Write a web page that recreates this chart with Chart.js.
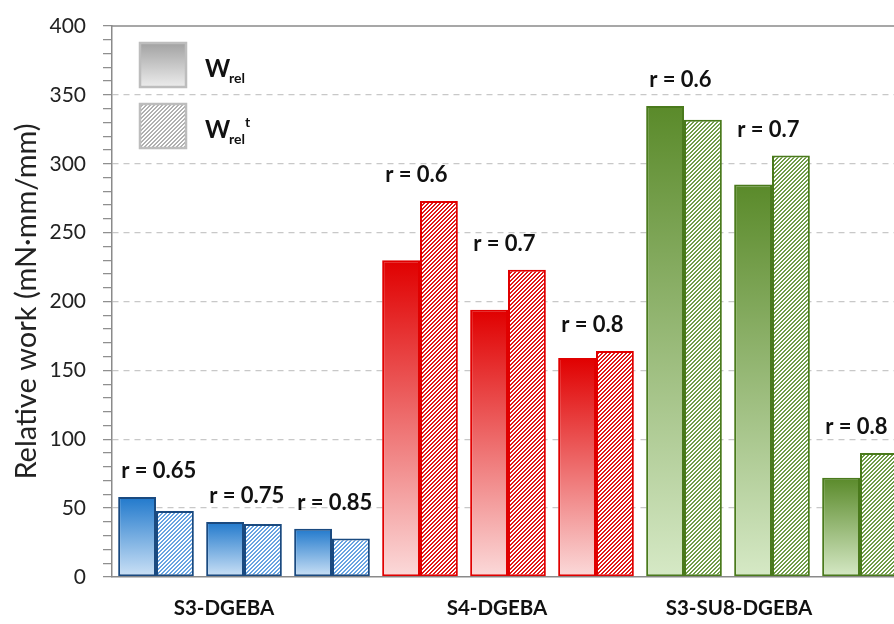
<!DOCTYPE html>
<html>
<head>
<meta charset="utf-8">
<script src="https://cdn.jsdelivr.net/npm/chart.js@4"></script>
<style>
  body { margin: 0; background: #fff; overflow: hidden; }
</style>
</head>
<body>
<canvas id="workChart" width="910" height="624"></canvas>
<script>
// Data
const groupNames = ['S3-DGEBA', 'S4-DGEBA', 'S3-SU8-DGEBA'];
const categories = ['S3-DGEBA 0.65', 'S3-DGEBA 0.75', 'S3-DGEBA 0.85',
                    'S4-DGEBA 0.6', 'S4-DGEBA 0.7', 'S4-DGEBA 0.8',
                    'S3-SU8-DGEBA 0.6', 'S3-SU8-DGEBA 0.7', 'S3-SU8-DGEBA 0.8'];
const rLabels = ['r = 0.65', 'r = 0.75', 'r = 0.85', 'r = 0.6', 'r = 0.7', 'r = 0.8', 'r = 0.6', 'r = 0.7', 'r = 0.8'];
const wRel  = [58, 40, 35, 230, 194, 159, 342, 285, 72];
const wRelT = [48, 38.5, 28, 273, 223, 164, 332, 306, 90];
const yMax = 400;
const yMajorStep = 50;
const yMinorStep = 10;

// Farger per grupp
const groupStyles = [
  { top: '#2179cc', bottom: '#cde2f6', border: '#1a4a80', hatch: [104, 164, 226] },
  { top: '#e00000', bottom: '#fbdada', border: '#e00000', hatch: [226, 24, 24] },
  { top: '#5a8a2a', bottom: '#d6e9c6', border: '#4a7a1c', hatch: [112, 156, 72] }
];

function groupOf(i) { return Math.floor(i / 3); }

// diagonal hatch built pixel by pixel so the colour stays exact
function hatchPattern(rgb) {
  const n = 4;
  const c = document.createElement('canvas');
  c.width = n; c.height = n;
  const g = c.getContext('2d');
  const img = g.createImageData(n, n);
  for (let py = 0; py < n; py++) {
    for (let px = 0; px < n; px++) {
      const k = (py * n + px) * 4;
      const on = ((px + py) % n) >= 2;
      img.data[k] = on ? rgb[0] : 255;
      img.data[k + 1] = on ? rgb[1] : 255;
      img.data[k + 2] = on ? rgb[2] : 255;
      img.data[k + 3] = 255;
    }
  }
  g.putImageData(img, 0, 0);
  return g.createPattern(c, 'repeat');
}

const hatches = groupStyles.map(s => hatchPattern(s.hatch));
const legendHatch = hatchPattern([176, 176, 176]);

function solidFill(ctx, style) {
  const chart = ctx.chart;
  const y = chart.scales.y;
  if (!y || ctx.parsed === undefined) return style.top;
  const top = y.getPixelForValue(ctx.parsed.y);
  const base = y.getPixelForValue(0);
  if (!isFinite(top) || !isFinite(base) || top === base) return style.top;
  const grad = chart.ctx.createLinearGradient(0, top, 0, base);
  grad.addColorStop(0, style.top);
  grad.addColorStop(1, style.bottom);
  return grad;
}

// Etiketter, legend och ramlinje
const annotations = {
  id: 'annotations',
  afterDatasetsDraw(chart) {
    const { ctx, chartArea, scales } = chart;
    const x = scales.x, y = scales.y;
    const catW = (chartArea.right - chartArea.left) / categories.length;
    const pairW = catW * 0.86;

    ctx.save();
    // top frame line
    ctx.strokeStyle = '#8a8a8a';
    ctx.lineWidth = 1.5;
    ctx.beginPath();
    ctx.moveTo(chartArea.left, chartArea.top);
    ctx.lineTo(chartArea.right, chartArea.top);
    ctx.stroke();

    // r-labels
    ctx.fillStyle = '#111';
    ctx.font = 'bold 22px Lato';
    ctx.textBaseline = 'middle';
    ctx.textAlign = 'left';
    categories.forEach((c, i) => {
      const px = x.getPixelForValue(i) - pairW / 2 + 3;
      const py = y.getPixelForValue(Math.max(wRel[i], wRelT[i])) - 26;
      ctx.fillText(rLabels[i], px, py);
    });

    // group labels
    const shifts = [-20, -11, -33];
    ctx.font = 'bold 20.5px Lato';
    ctx.textAlign = 'center';
    groupNames.forEach((name, g) => {
      const px = x.getPixelForValue(g * 3 + 1) + shifts[g];
      ctx.fillText(name, px, chartArea.bottom + 31);
    });

    // legend
    const lx = chartArea.left + 28;
    const boxes = [{ top: 43, hatch: false }, { top: 104, hatch: true }];
    boxes.forEach(b => {
      if (b.hatch) {
        ctx.fillStyle = legendHatch;
      } else {
        const grad = ctx.createLinearGradient(0, b.top, 0, b.top + 44);
        grad.addColorStop(0, '#a2a2a2');
        grad.addColorStop(1, '#ececec');
        ctx.fillStyle = grad;
      }
      ctx.fillRect(lx, b.top, 46, 44);
      ctx.strokeStyle = '#bdbdbd';
      ctx.lineWidth = 2.5;
      ctx.strokeRect(lx, b.top, 46, 44);
    });
    ctx.fillStyle = '#111';
    ctx.textAlign = 'left';
    ctx.textBaseline = 'alphabetic';
    ctx.font = 'bold 24px Lato';
    ctx.fillText('W', lx + 65, 77);
    ctx.fillText('W', lx + 65, 138);
    ctx.font = 'bold 14px Lato';
    ctx.fillText('rel', lx + 89, 83);
    ctx.fillText('rel', lx + 89, 144);
    ctx.fillText('t', lx + 105, 127);
    ctx.restore();
  }
};

const chart = new Chart(document.getElementById('workChart'), {
  type: 'bar',
  data: {
    labels: categories,
    datasets: [{
      label: 'Wrel',
      data: wRel,
      backgroundColor: ctx => solidFill(ctx, groupStyles[groupOf(ctx.dataIndex)]),
      borderColor: ctx => groupStyles[groupOf(ctx.dataIndex)].border,
      borderWidth: 2,
      borderSkipped: false,
      categoryPercentage: 0.86,
      barPercentage: 1
    }, {
      label: 'Wrel t',
      data: wRelT,
      backgroundColor: ctx => hatches[groupOf(ctx.dataIndex)],
      borderColor: ctx => groupStyles[groupOf(ctx.dataIndex)].border,
      borderWidth: 2,
      borderSkipped: false,
      categoryPercentage: 0.86,
      barPercentage: 1
    }]
  },
  options: {
    responsive: false,
    animation: false,
    devicePixelRatio: 1,
    layout: { padding: { top: 26, right: 6, left: 0, bottom: 0 } },
    plugins: {
      legend: { display: false },
      tooltip: { enabled: false }
    },
    scales: {
      x: {
        ticks: { display: false },
        grid: { display: false },
        border: { color: '#8a8a8a', width: 1.5 },
        afterFit: s => { s.height = 47; }
      },
      y: {
        min: 0,
        max: yMax,
        ticks: {
          stepSize: yMinorStep,
          autoSkip: false,
          callback: v => v % yMajorStep === 0 ? v : '',
          font: { family: 'Lato', size: 21 },
          color: '#222',
          padding: 17
        },
        grid: {
          color: c => (c.tick && c.tick.value % yMajorStep === 0 && c.tick.value > 0 && c.tick.value < yMax) ? '#c8c8c8' : 'rgba(0,0,0,0)',
          lineWidth: 1.3,
          tickColor: '#8a8a8a',
          tickWidth: 1.2,
          tickLength: 9,
          tickBorderDash: []
        },
        border: { color: '#8a8a8a', width: 1.5, dash: [6, 5] },
        title: {
          display: true,
          text: 'Relative work (mN·mm/mm)',
          font: { family: 'Lato', size: 29 },
          color: '#222',
          padding: { top: 9, bottom: 0 }
        },
        afterFit: s => { s.width = 112; s.paddingTop = 0; s.paddingBottom = 0; }
      }
    }
  },
  plugins: [annotations]
});
</script>
</body>
</html>
